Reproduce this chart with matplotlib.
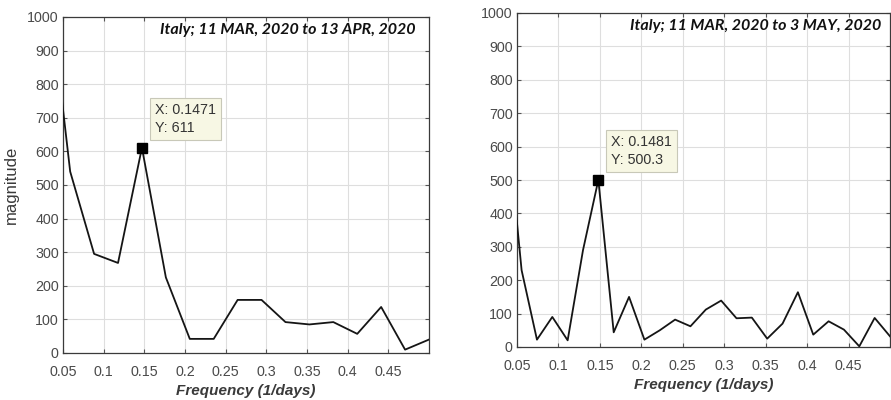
import numpy as np
import matplotlib.pyplot as plt

# spectrum, 11 MAR to 13 APR (34 days -> bins k/34)
freq_a = np.arange(1, 18) / 34
mag_a = [1157, 540, 295, 268, 611, 225, 42, 42, 158, 158, 92, 85, 92, 57, 137, 10, 40]
title_a = "Italy; 11 MAR, 2020 to 13 APR, 2020"
peak_a = (0.1471, 611)
tip_a = "X: 0.1471\nY: 611"

# spectrum, 11 MAR to 3 MAY (54 days -> bins k/54)
freq_b = np.arange(2, 28) / 54
mag_b = [700, 230, 22, 90, 20, 290, 500.3, 44, 150, 22, 50, 82, 62, 112, 139,
         86, 88, 25, 70, 164, 37, 77, 52, 2, 87, 32]
title_b = "Italy; 11 MAR, 2020 to 3 MAY, 2020"
peak_b = (0.1481, 500.3)
tip_b = "X: 0.1481\nY: 500.3"

xticks = [0.05, 0.1, 0.15, 0.2, 0.25, 0.3, 0.35, 0.4, 0.45]
xtick_labels = ["0.05", "0.1", "0.15", "0.2", "0.25", "0.3", "0.35", "0.4", "0.45"]
yticks = np.arange(0, 1001, 100)

fig = plt.figure(figsize=(8.91, 4.0), dpi=100)
fig.patch.set_facecolor("white")

ax_a = fig.add_axes([63/891, 47/400, 366/891, 336/400])
ax_b = fig.add_axes([517/891, 53/400, 373/891, 334/400])


def draw(ax, freq, mag, title, peak, tip, tip_off, title_x):
    ax.plot(freq, mag, color="#151515", lw=1.3, zorder=3)
    ax.plot([peak[0]], [peak[1]], marker="s", ms=7, color="black", zorder=4)
    ax.set_xlim(0.05, 0.5)
    ax.set_ylim(0, 1000)
    ax.set_xticks(xticks)
    ax.set_xticklabels(xtick_labels)
    ax.set_yticks(yticks)
    ax.grid(True, color="#dedede", lw=0.8)
    ax.set_axisbelow(True)
    ax.tick_params(direction="in", top=True, right=True, length=3,
                   labelsize=10.3, labelcolor="#4a4a4a", color="#555555")
    ax.tick_params(axis="x", pad=8.5)
    ax.tick_params(axis="y", pad=3)
    for lab in ax.get_xticklabels() + ax.get_yticklabels():
        lab.set_family("Liberation Sans")
    for sp in ax.spines.values():
        sp.set_color("#3a3a3a")
        sp.set_linewidth(0.9)
    ax.set_xlabel("Frequency (1/days)", family="Liberation Sans", style="italic",
                  weight="bold", fontsize=11, color="#3a3a3a", labelpad=4)
    ax.text(title_x, 0.96, title, transform=ax.transAxes, ha="right", va="center",
            family="Lato", style="italic", weight="bold", fontsize=11.5, color="#111111")
    ax.annotate(tip, xy=peak, xytext=tip_off, textcoords="offset pixels",
                ha="left", va="bottom", family="Liberation Sans", fontsize=10.3,
                color="#333333", linespacing=1.35,
                bbox=dict(boxstyle="square,pad=0.35", fc="#f7f7e4", ec="#c8c8b8", lw=0.8))


draw(ax_a, freq_a, mag_a, title_a, peak_a, tip_a, (13, 13), 0.962)
draw(ax_b, freq_b, mag_b, title_b, peak_b, tip_b, (13, 13), 0.976)

ax_a.set_ylabel("magnitude", family="Liberation Sans", fontsize=12,
                color="#3a3a3a", labelpad=6)

fig.savefig("out.png", dpi=100, facecolor="white")
